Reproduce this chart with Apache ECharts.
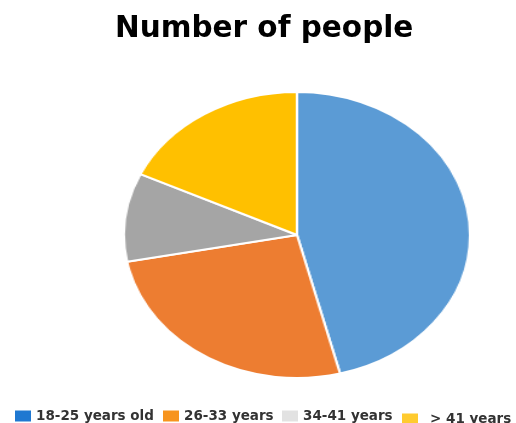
<!DOCTYPE html>
<html>
<head>
<meta charset="utf-8">
<script src="https://cdn.jsdelivr.net/npm/echarts@6/dist/echarts.min.js"></script>
<style>
  html, body { margin: 0; padding: 0; background: #fff; }
  #wrap { position: relative; width: 516px; height: 423px; }
  #main { position: absolute; left: 0; top: 0; width: 516px; height: 423px; }
  /* pie is drawn round, then stretched sideways to get the oval look */
  #pie { position: absolute; left: 152px; top: 90px; width: 290px; height: 290px;
         transform: scaleX(1.21); transform-origin: 50% 50%; }
</style>
</head>
<body>
<div id="wrap">
  <div id="main"></div>
  <div id="pie"></div>
</div>
<script>
const categories = ["18-25 years old", "26-33 years", "34-41 years", "> 41 years"];
const people = [23, 13, 5, 9];
const sliceColors = ["#5B9BD5", "#ED7D31", "#A5A5A5", "#FFC000"];
const legendColors = ["#1F78D1", "#F7941D", "#E2E2E2", "#FFCB2F"];

// legend entries sit at uneven spots in the original
const legendLeft = [10, 158, 277, 397];
const legendTop = [404, 404, 404, 407];
const legendTextPad = [0, 0, 0, 7];

const pieData = categories.map((name, i) => ({
  name: name,
  value: people[i],
  itemStyle: { color: sliceColors[i] },
}));

const legends = categories.map((name, i) => ({
  left: legendLeft[i],
  top: legendTop[i],
  itemWidth: 16,
  itemHeight: 11,
  icon: "rect",
  data: [{ name: name, itemStyle: { color: legendColors[i], opacity: 1 } }],
  textStyle: {
    fontFamily: "DejaVu Sans",
    fontSize: 13.5,
    fontWeight: "bold",
    color: "#333",
    padding: [0, 0, 0, legendTextPad[i]],
  },
}));

const mainChart = echarts.init(document.getElementById("main"));
mainChart.setOption({
  animation: false,
  title: {
    text: "Number of people",
    left: 110,
    top: 9,
    textStyle: {
      fontFamily: "DejaVu Sans",
      fontSize: 29.5,
      fontWeight: "bold",
      color: "#000",
    },
  },
  legend: legends,
  // zero-size copy of the pie so the legend has something to bind to
  series: [
    {
      type: "pie",
      radius: [0, 0],
      silent: true,
      label: { show: false },
      data: pieData,
    },
  ],
});

const pieChart = echarts.init(document.getElementById("pie"));
pieChart.setOption({
  animation: false,
  series: [
    {
      type: "pie",
      center: ["50%", "50%"],
      radius: 143,
      startAngle: 90,
      clockwise: true,
      label: { show: false },
      labelLine: { show: false },
      itemStyle: {
        borderColor: "#fff",
        borderWidth: 2,
      },
      data: pieData,
    },
  ],
});
</script>
</body>
</html>
